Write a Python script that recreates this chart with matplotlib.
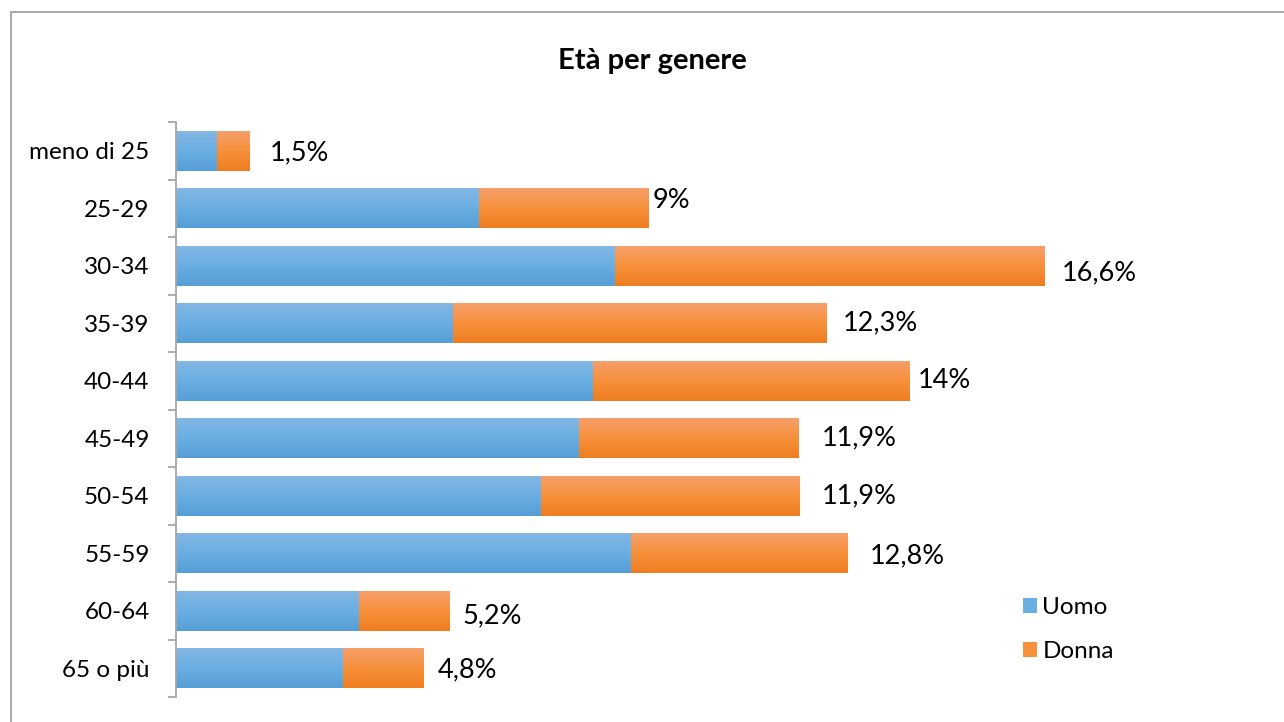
import numpy as np
import matplotlib
matplotlib.use("Agg")
import matplotlib.pyplot as plt
from matplotlib.colors import LinearSegmentedColormap
from matplotlib.patches import Rectangle

plt.rcParams['font.family'] = ['Lato', 'DejaVu Sans']

# --- data (percent of total) ---
categories = ["meno di 25", "25-29", "30-34", "35-39", "40-44",
              "45-49", "50-54", "55-59", "60-64", "65 o più"]
uomo = [0.78, 5.79, 8.39, 5.29, 7.97, 7.70, 6.97, 8.69, 3.50, 3.19]
donna = [0.63, 3.23, 8.21, 7.13, 6.04, 4.20, 4.93, 4.13, 1.72, 1.53]
total_labels = ["1,5%", "9%", "16,6%", "12,3%", "14%",
                "11,9%", "11,9%", "12,8%", "5,2%", "4,8%"]

# label nudges in pixels (dx, dy) - the labels in the original were moved by hand
label_nudge = [(20, -2), (5, 8), (17, -7), (17, 0), (9, 0),
               (23, 0), (23, 0), (23, -3), (13, -5), (15, -2)]

blue_grad = LinearSegmentedColormap.from_list("b", ["#559ed6", "#6aafe3", "#85b7e4"])
orange_grad = LinearSegmentedColormap.from_list("o", ["#ee7d20", "#f7913c", "#f6a06e"])

fig = plt.figure(figsize=(12.84, 7.22), dpi=100)
ax = fig.add_axes([176 / 1284, 1 - 697 / 722, 942 / 1284, 575 / 722])

grad = np.linspace(0, 1, 64).reshape(-1, 1)


def grad_bar(y, left, width, cmap):
    h = 0.70
    rect = Rectangle((left, y - h / 2), width, h, facecolor="none", edgecolor="none")
    ax.add_patch(rect)
    im = ax.imshow(grad, cmap=cmap, aspect="auto", origin="upper",
                   extent=(left, left + width, y + h / 2, y - h / 2),
                   interpolation="bilinear", zorder=2)
    im.set_clip_path(rect)


ypos = np.arange(len(categories))
for i in range(len(categories)):
    grad_bar(ypos[i], 0, uomo[i], blue_grad.reversed())
    grad_bar(ypos[i], uomo[i], donna[i], orange_grad.reversed())
    ax.annotate(total_labels[i], (uomo[i] + donna[i], ypos[i]),
                xytext=label_nudge[i], textcoords="offset pixels",
                ha="left", va="center", fontsize=19.5, color="black")

ax.set_xlim(0, 18)
ax.set_ylim(len(categories) - 0.5, -0.5)

for s in ["top", "right", "bottom"]:
    ax.spines[s].set_visible(False)
ax.spines["left"].set_color("#a6a6a6")
ax.spines["left"].set_linewidth(1.3)
ax.set_xticks([])

ax.set_yticks(np.arange(len(categories) + 1) - 0.5)
ax.set_yticklabels([])
ax.tick_params(axis="y", which="major", length=6, width=1.3, color="#a6a6a6")
ax.set_yticks(ypos, minor=True)
ax.set_yticklabels(categories, minor=True, fontsize=17.5)
ax.tick_params(axis="y", which="minor", length=0, pad=19)

fig.text(652 / 1284, 1 - 61 / 722, "Età per genere", ha="center", va="center",
         fontsize=21, fontweight="bold")

# legend
handles = [Rectangle((0, 0), 1, 1, facecolor="#6aafe3"),
           Rectangle((0, 0), 1, 1, facecolor="#f7913c")]
fig.legend(handles, ["Uomo", "Donna"], loc="upper left",
           bbox_to_anchor=(1001 / 1284, 1 - 575 / 722), frameon=False,
           fontsize=17.5, handlelength=0.6, handleheight=0.6,
           handletextpad=0.2, labelspacing=0.95)

# chart border
fig.patches.append(Rectangle((11 / 1284, -0.05), 1.1, 1.05 - 12 / 722,
                             transform=fig.transFigure, fill=False,
                             edgecolor="#a0a0a0", linewidth=1.3))

fig.savefig("out.png", dpi=100)
